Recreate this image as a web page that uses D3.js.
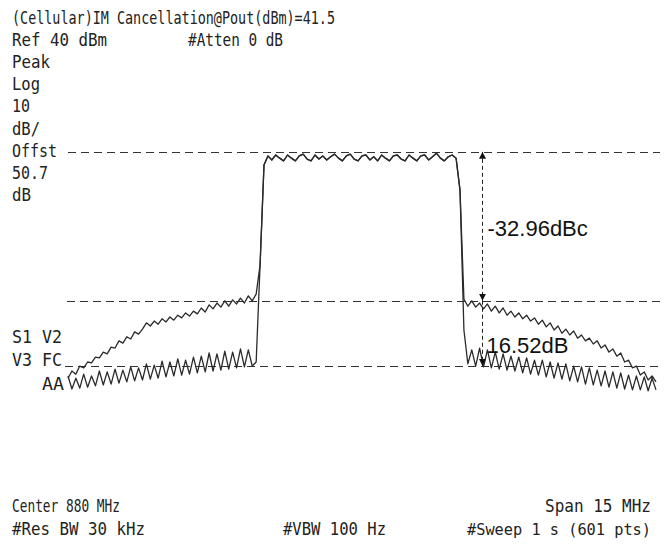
<!DOCTYPE html>
<html>
<head>
<meta charset="utf-8">
<script src="https://cdn.jsdelivr.net/npm/d3@7"></script>
<style>
  html, body { margin: 0; padding: 0; background: #fff; }
  #chart svg { display: block; }
  .sa-text { font-family: 'DejaVu Sans Mono', monospace; font-size: 18px; fill: #222; }
  .delta-text { font-family: 'Liberation Sans', Arial, sans-serif; font-size: 22px; fill: #111; }
</style>
</head>
<body>
<div id="chart"></div>
<script>
//Barrido del analizador: 872.5 a 887.5 MHz, un punto cada 0.1 MHz
const sweepStart = 872.5, sweepStep = 0.1;

//Traza superior (sin cancelación), faldón izquierdo (dBm)
const upperLeft = [-39.6, -38.0, -38.7, -36.9, -37.3, -36.0, -36.2, -34.9, -35.1, -33.8,
    -34.2, -32.7, -32.9, -31.3, -31.8, -30.4, -30.9, -29.3, -29.8, -28.7,
    -27.3, -28.0, -26.9, -27.6, -26.4, -27.1, -26.0, -26.7, -25.6, -26.2,
    -25.1, -25.8, -24.7, -25.3, -24.0, -24.9, -23.3, -24.2, -22.9, -23.8,
    -22.4, -23.6, -22.2, -23.1, -21.8, -22.9, -21.3, -22.4, -20.9];

//Traza inferior (con cancelación), faldón izquierdo
const lowerLeft = [-39.1, -42.0, -39.6, -41.8, -38.7, -41.6, -39.1, -41.3, -38.0, -41.1,
    -38.2, -40.9, -37.6, -40.7, -37.8, -40.4, -37.1, -40.2, -37.3, -40.0,
    -36.4, -39.8, -36.7, -39.6, -35.8, -39.3, -36.0, -39.1, -35.3, -38.9,
    -35.6, -38.7, -34.9, -38.4, -34.7, -38.2, -34.0, -38.0, -34.2, -37.8,
    -33.6, -37.6, -33.8, -37.3, -33.1, -37.1, -33.3, -36.9, -36.0];

//Canal (común a las dos trazas)
const channelTop = [-14.4, 7.8,
    9.8, 8.9, 10.0, 9.3, 8.7, 10.0, 9.3, 8.7, 9.8, 10.2,
    9.1, 8.7, 10.0, 9.1, 9.8, 8.9, 9.6, 10.2, 9.3, 8.7,
    9.8, 10.2, 9.1, 8.7, 9.8, 10.0, 8.9, 9.6, 8.7, 10.0,
    9.3, 8.7, 9.8, 10.0, 9.1, 8.7, 10.0, 9.3, 8.7, 9.8,
    10.0, 8.9, 9.6, 10.4, 9.3, 8.7, 9.6, 10.0,
    9.3, 2.2];

//Faldones derechos
const upperRight = [-22.0,
    -23.6, -22.4, -23.8, -22.9, -24.2, -23.1, -24.7, -23.6, -25.1, -24.0,
    -25.6, -24.7, -26.0, -25.1, -26.4, -25.6, -26.9, -26.2, -27.6, -26.7,
    -28.2, -27.3, -28.9, -28.0, -29.6, -28.7, -30.0, -29.1, -30.7, -30.0,
    -31.3, -30.7, -32.0, -31.3, -32.9, -32.2, -33.8, -33.1, -34.7, -34.0,
    -36.0, -35.6, -37.3, -36.9, -38.9, -38.2, -40.0, -39.1, -40.4];

const lowerRight = [-28.9,
    -36.4, -33.3, -36.9, -32.9, -37.1, -33.3, -37.3, -33.8, -37.6, -34.2,
    -37.8, -34.7, -38.0, -34.9, -38.4, -35.1, -38.7, -35.6, -38.9, -35.6,
    -39.3, -36.0, -39.6, -36.2, -39.8, -36.4, -40.2, -36.9, -40.4, -37.1,
    -40.9, -37.3, -41.1, -37.8, -41.3, -38.0, -41.6, -38.2, -41.8, -38.4,
    -42.0, -38.9, -42.2, -39.1, -42.2, -39.3, -42.4, -39.6, -42.2];

//Niveles de referencia (líneas discontinuas) y medidas
const refLevels = [10.7, -22.4, -36.9];
const deltaFreq = 883.05;
const deltaLabels = ['-32.96dBc', '16.52dB'];

//Textos de pantalla del analizador
const titleText = '(Cellular)IM Cancellation@Pout(dBm)=41.5';
const refText = ['Ref 40 dBm', '#Atten 0 dB'];
const scaleText = ['Peak', 'Log', '10', 'dB/', 'Offst', '50.7', 'dB'];
const traceText = ['S1 V2', 'V3 FC', 'AA'];
const footerText = ['Center 880 MHz', 'Span 15 MHz', '#Res BW 30 kHz', '#VBW 100 Hz', '#Sweep 1 s (601 pts)'];

const W = 666, H = 547;

let svg = d3.select('#chart')
    .append('svg')
        .attr('width', W)
        .attr('height', H);

svg.append('rect').attr('width', W).attr('height', H).attr('fill', '#fff');

let x = d3.scaleLinear()
    .domain([sweepStart, sweepStart + 150 * sweepStep])
    .range([68, 656]);

let y = d3.scaleLinear()
    .domain([-60, 40])
    .range([470, 20]);

let upper = upperLeft.concat(channelTop, upperRight);
let lower = lowerLeft.concat(channelTop, lowerRight);

let line = d3.line()
    .x(function(d, i) { return x(sweepStart + i * sweepStep); })
    .y(function(d) { return y(d); });

//Líneas de referencia
let levelStart = [x.range()[0], x.range()[0] - 1, x.range()[0] - 3];
svg.append('g')
    .selectAll('line')
    .data(refLevels)
    .enter()
    .append('line')
    .attr('x1', function(d, i) { return levelStart[i]; })
    .attr('x2', x.range()[1] + 4)
    .attr('y1', function(d) { return Math.round(y(d)) + 0.5; })
    .attr('y2', function(d) { return Math.round(y(d)) + 0.5; })
    .attr('stroke', '#333')
    .attr('stroke-width', 1)
    .attr('stroke-dasharray', '8,5');

//Trazas
svg.append('g')
    .selectAll('path')
    .data([upper, lower])
    .enter()
    .append('path')
    .attr('d', line)
    .attr('fill', 'none')
    .attr('stroke', '#2a2a2a')
    .attr('stroke-width', 1.3)
    .attr('stroke-linejoin', 'round');

//Flechas de medida
let defs = svg.append('defs');
defs.append('marker')
    .attr('id', 'arrow')
    .attr('viewBox', '0 0 10 10')
    .attr('refX', 10).attr('refY', 5)
    .attr('markerWidth', 7).attr('markerHeight', 7)
    .attr('markerUnits', 'userSpaceOnUse')
    .attr('orient', 'auto-start-reverse')
    .append('path')
    .attr('d', 'M0,0 L10,5 L0,10 z')
    .attr('fill', '#111');

let ax = Math.round(x(deltaFreq)) + 0.5;
let arrows = [[refLevels[0], refLevels[1], true], [refLevels[1], refLevels[2], false]];
svg.append('g')
    .selectAll('line')
    .data(arrows)
    .enter()
    .append('line')
    .attr('x1', ax).attr('x2', ax)
    .attr('y1', function(d) { return y(d[0]); })
    .attr('y2', function(d) { return y(d[1]); })
    .attr('stroke', '#222')
    .attr('stroke-width', 1)
    .attr('stroke-dasharray', '4,3')
    .attr('marker-end', 'url(#arrow)')
    .attr('marker-start', function(d) { return d[2] ? 'url(#arrow)' : null; });

svg.append('text')
    .attr('class', 'delta-text')
    .attr('x', ax + 5)
    .attr('y', 236)
    .text(deltaLabels[0]);

svg.append('text')
    .attr('class', 'delta-text')
    .attr('x', ax + 4)
    .attr('y', 353)
    .text(deltaLabels[1]);

//Textos del analizador
function saText(str, tx, ty, w, size) {
    svg.append('text')
        .attr('class', 'sa-text')
        .attr('x', tx)
        .attr('y', ty)
        .style('font-size', size ? size + 'px' : null)
        .attr('textLength', w)
        .attr('lengthAdjust', 'spacingAndGlyphs')
        .text(str);
}

saText(titleText, 12, 24, 323);
saText(refText[0], 12, 46, 95);
saText(refText[1], 188, 46, 95);

let scaleW = [38, 28, 18, 28, 45, 36, 19];
scaleText.forEach(function(t, i) {
    saText(t, 12, 68 + i * 22.2, scaleW[i]);
});

saText(traceText[0], 12, 343, 50);
saText(traceText[1], 12, 366, 50);
saText(traceText[2], 42, 390, 22);

saText(footerText[0], 12, 512, 108);
saText(footerText[1], 545, 512, 106);
saText(footerText[2], 12, 535, 133);
saText(footerText[3], 283, 535, 103);
saText(footerText[4], 467, 535, 184, 16);
</script>
</body>
</html>
